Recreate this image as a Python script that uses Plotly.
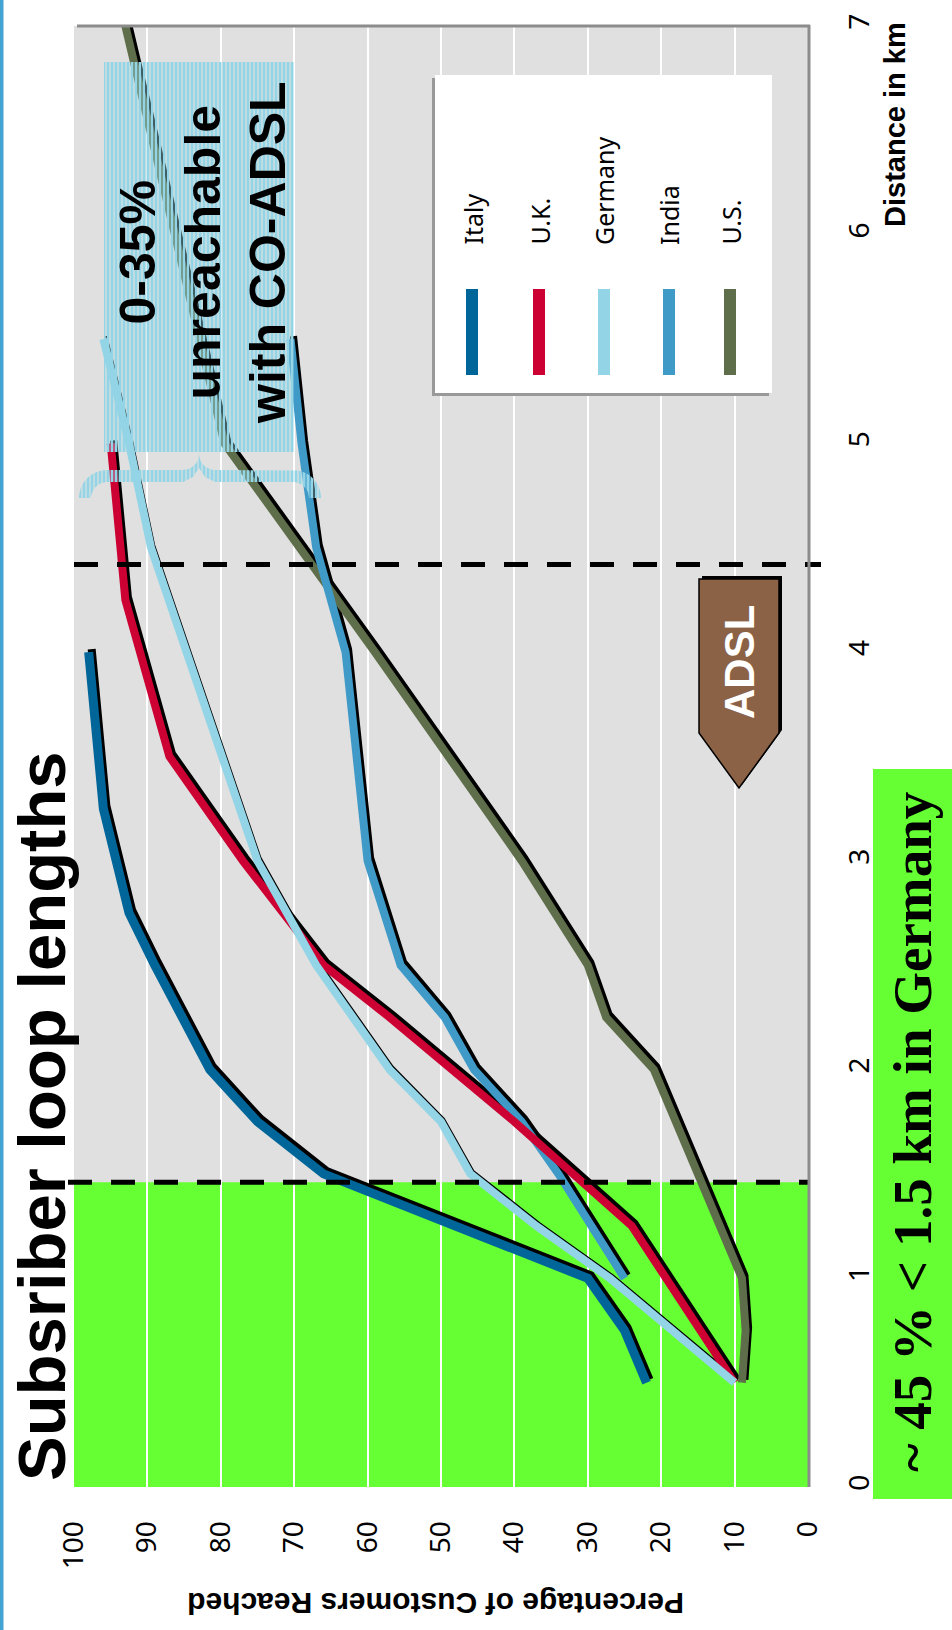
import numpy as np
import plotly.graph_objects as go

# ---- share of customers reached (%) against subscriber loop length (km) ----
italy_km = [0.5, 0.75, 1.0, 1.25, 1.5, 1.75, 2.0, 2.5, 2.75, 3.25, 4.0]
italy_pct = [22, 25, 30, 48, 66, 75, 81.5, 89, 92.5, 96, 98]

uk_km = [0.5, 1.25, 1.75, 2.25, 2.5, 3.0, 3.5, 4.25, 5.0]
uk_pct = [10, 24, 40, 57, 66, 77, 87, 93, 95]

germany_km = [0.5, 1.0, 1.25, 1.5, 1.75, 2.0, 2.5, 3.0, 4.5, 5.0, 5.5]
germany_pct = [10, 27, 37, 46, 50, 57, 67, 75, 89.5, 92.5, 96]

india_km = [1.0, 1.5, 1.75, 2.0, 2.25, 2.5, 3.0, 4.0, 4.5, 5.0, 5.5]
india_pct = [25, 34, 39, 45.5, 49.5, 55.5, 60, 63, 67, 69, 70.5]

us_km = [0.5, 0.75, 1.0, 1.25, 1.5, 1.75, 2.0, 2.25, 2.5, 3.0, 4.0, 5.0, 7.0]
us_pct = [9, 8.5, 9, 12, 15, 18, 21, 27.5, 30, 39, 59, 79.5, 93]

series_names = ["Italy", "U.K.", "Germany", "India", "U.S."]
series_colors = ["#00669a", "#cc0033", "#93d5e6", "#409ac8", "#5f6e4a"]
series_km = [italy_km, uk_km, germany_km, india_km, us_km]
series_pct = [italy_pct, uk_pct, germany_pct, india_pct, us_pct]

pct_ticks = list(range(0, 101, 10))
km_ticks = list(range(0, 8))

short_loop_km = 1.46   # edge of the green "short loop" band
adsl_reach_km = 4.42   # ADSL reach marker

# ---- page geometry (pixels) ----
W, H = 952, 1630
L, R, T, B = 74, 808, 26, 1487
PCT_RANGE = [100, 0]
KM_RANGE = [0, 7]


def px(x):
    return (x - L) / (R - L)


def py(y):
    return (B - y) / (B - T)


def path(points):
    return "M " + " L ".join(f"{px(a):.5f},{py(b):.5f}" for a, b in points) + " Z"


# drop-shadow offset of the curves: 3 px right, 3 px up
sx = 3 / ((R - L) / 100)
sy = 3 / ((B - T) / 7)

fig = go.Figure()
fig.add_trace(go.Scatter(x=[], y=[], xaxis="x", yaxis="y", showlegend=False))

draw_order = [4, 3, 1, 0, 2]
line_w = [9, 8, 8, 8, 8]
shadow_w = [8, 7, 2, 7, 7]
for i in draw_order:
    fig.add_trace(go.Scatter(
        x=series_pct[i], y=series_km[i], xaxis="x2", yaxis="y2", mode="lines",
        line=dict(color="black", width=shadow_w[i]), showlegend=False, hoverinfo="skip"))
for i in draw_order:
    fig.add_trace(go.Scatter(
        x=series_pct[i], y=series_km[i], xaxis="x3", yaxis="y3", mode="lines",
        name=series_names[i], line=dict(color=series_colors[i], width=line_w[i]),
        showlegend=False))

# hatched call-out box and brace (pixel space)
HATCH_BLUE = "#93d5e6"
hatch = dict(shape="|", size=4, solidity=0.72, fgcolor=HATCH_BLUE, fgopacity=1,
             bgcolor="rgba(0,0,0,0)", fillmode="replace")
box_x = [104, 294, 294, 104, 104]
box_y = [62, 62, 452, 452, 62]
fig.add_trace(go.Scatter(x=box_x, y=box_y, xaxis="x4", yaxis="y4", mode="lines",
                         fill="toself", fillpattern=hatch, fillcolor=HATCH_BLUE,
                         line=dict(width=0), showlegend=False, hoverinfo="skip"))


def arc(cx, cy, r, a0, a1, n=10):
    t = np.radians(np.linspace(a0, a1, n))
    return list(cx + r * np.cos(t)), list(cy + r * np.sin(t))


bx, by = [], []
for seg in [arc(107, 498, 28, 180, 270), ([183], [470]), arc(183, 454, 16, 90, 0),
            arc(215, 454, 16, 180, 90), ([293], [470]), arc(293, 498, 28, 270, 360),
            arc(293, 498, 16, 360, 270), ([215, 205, 199, 193, 183], [482, 477, 468, 477, 482]),
            arc(107, 498, 16, 270, 180), ([79], [498])]:
    bx += list(seg[0])
    by += list(seg[1])
fig.add_trace(go.Scatter(x=bx, y=by, xaxis="x4", yaxis="y4", mode="lines",
                         fill="toself", fillpattern=hatch, fillcolor=HATCH_BLUE,
                         line=dict(width=0), showlegend=False, hoverinfo="skip"))

tick_font = dict(family="Noto Sans", size=28, color="black")
hidden = dict(visible=False, showgrid=False, zeroline=False, fixedrange=True)

fig.update_layout(
    width=W, height=H,
    margin=dict(l=L, r=W - R, t=T, b=H - B, pad=0),
    paper_bgcolor="white", plot_bgcolor="#dfe0df",
    showlegend=False,
    xaxis=dict(range=PCT_RANGE, tickvals=pct_ticks, ticktext=[str(v) for v in pct_ticks],
               tickangle=-90, showgrid=True, gridcolor="white", gridwidth=2,
               zeroline=False, showline=False, ticks="outside", ticklen=22,
               tickcolor="rgba(0,0,0,0)", tickfont=tick_font, automargin=False),
    yaxis=dict(range=KM_RANGE, side="right", tickvals=km_ticks, tickangle=-90,
               showgrid=False, zeroline=False, showline=False, ticks="outside", ticklen=26,
               tickcolor="rgba(0,0,0,0)", tickfont=tick_font, automargin=False),
    xaxis2=dict(overlaying="x", anchor="y2", range=[100 + sx, sx], **hidden),
    yaxis2=dict(overlaying="y", anchor="x2", range=[-sy, 7 - sy], **hidden),
    xaxis3=dict(overlaying="x", anchor="y3", range=PCT_RANGE, **hidden),
    yaxis3=dict(overlaying="y", anchor="x3", range=KM_RANGE, **hidden),
    xaxis4=dict(overlaying="x", anchor="y4", range=[L, R], **hidden),
    yaxis4=dict(overlaying="y", anchor="x4", range=[B, T], **hidden),
)

shapes = [
    # short-loop band
    dict(type="rect", xref="x", yref="y", x0=100, x1=0, y0=0, y1=short_loop_km,
         fillcolor="#66ff33", line=dict(width=0), layer="below"),
    # reach markers
    dict(type="line", xref="paper", yref="y", x0=px(68), x1=px(810), y0=short_loop_km,
         y1=short_loop_km, line=dict(color="black", width=5, dash="24px,19px"), layer="above"),
    dict(type="line", xref="paper", yref="y", x0=px(74), x1=px(821), y0=adsl_reach_km,
         y1=adsl_reach_km, line=dict(color="black", width=5, dash="24px,19px"), layer="above"),
    # plot frame shadow
    dict(type="line", xref="paper", yref="paper", x0=px(77), x1=px(810), y0=py(26), y1=py(26),
         line=dict(color="#8c8c8c", width=3)),
    dict(type="line", xref="paper", yref="paper", x0=px(809), x1=px(809), y0=py(25), y1=py(1487),
         line=dict(color="#8c8c8c", width=3)),
    # page accent strip
    dict(type="rect", xref="paper", yref="paper", x0=px(-2), x1=px(3.5), y0=py(1640), y1=py(-10),
         fillcolor="#45a3d3", line=dict(width=0)),
    # note box
    dict(type="rect", xref="paper", yref="paper", x0=px(873), x1=px(960), y0=py(1499), y1=py(769),
         fillcolor="#66ff33", line=dict(width=0)),
    # ADSL arrow
    dict(type="path", xref="paper", yref="paper",
         path=path([(702, 576), (782, 576), (782, 730), (742, 785), (702, 730)]),
         fillcolor="black", line=dict(width=0), layer="above"),
    dict(type="path", xref="paper", yref="paper",
         path=path([(699, 579), (779, 579), (779, 733), (739, 788), (699, 733)]),
         fillcolor="#8b6246", line=dict(color="black", width=1.5), layer="above"),
    # legend panel
    dict(type="rect", xref="paper", yref="paper", x0=px(432), x1=px(769), y0=py(396), y1=py(78),
         fillcolor="#999999", line=dict(width=0), layer="above"),
    dict(type="rect", xref="paper", yref="paper", x0=px(435), x1=px(772), y0=py(393), y1=py(75),
         fillcolor="white", line=dict(width=0), layer="above"),
]

legend_x = [472, 539, 604, 669, 730]
annotations = []
for name, color, lx in zip(series_names, series_colors, legend_x):
    shapes.append(dict(type="line", xref="paper", yref="paper", x0=px(lx), x1=px(lx),
                       y0=py(375), y1=py(289), line=dict(color=color, width=12), layer="above"))
    annotations.append(dict(text=name, x=px(lx), y=py(247), xref="paper", yref="paper",
                            xanchor="center", yanchor="bottom", textangle=-90, showarrow=False,
                            font=dict(family="Noto Sans", size=25, color="black")))

annotations += [
    dict(text="<b>Subsriber loop lengths</b>", x=px(41), y=py(1116), textangle=-90,
         font=dict(family="Liberation Sans", size=67, color="black")),
    dict(text="<b>Distance in km</b>", x=px(895), y=py(124), textangle=-90,
         font=dict(family="Liberation Sans", size=29, color="black")),
    dict(text="<b>Percentage of Customers Reached</b>", x=px(436), y=py(1603), textangle=180,
         font=dict(family="Liberation Sans", size=30, color="black")),
    dict(text="<b>0-35%<br>unreachable<br>with CO-ADSL</b>", x=px(203), y=py(253), textangle=-90,
         font=dict(family="Liberation Sans", size=50, color="black")),
    dict(text="<b>ADSL</b>", x=px(739), y=py(662), textangle=-90,
         font=dict(family="Liberation Sans", size=42, color="white")),
    dict(text="<b>~ 45 % &lt; 1.5 km in Germany</b>", x=px(912), y=py(1132), textangle=-90,
         font=dict(family="Liberation Serif", size=55, color="black")),
]
for a in annotations[len(series_names):]:
    a.update(xref="paper", yref="paper", showarrow=False, xanchor="center", yanchor="middle")

fig.update_layout(shapes=shapes, annotations=annotations)
fig.write_html("out.html")
